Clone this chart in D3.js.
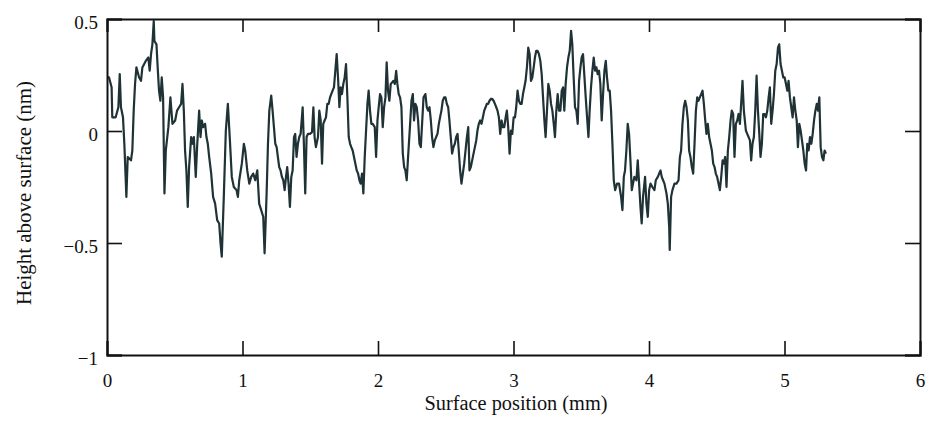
<!DOCTYPE html>
<html><head><meta charset="utf-8">
<script src="https://cdn.jsdelivr.net/npm/d3@7"></script>
<style>
html,body{margin:0;padding:0;background:#fff;}
svg{display:block;}
</style></head>
<body>
<svg id="chart" width="932" height="434"></svg>
<script>
// x ticks (mm) and y ticks (nm)
const xTickValues = [0, 1, 2, 3, 4, 5, 6];
const yTickValues = [0.5, 0, -0.5, -1];
const yTickLabels = ["0.5", "0", "\u22120.5", "\u22121"];
const xTitle = "Surface position (mm)";
const yTitle = "Height above surface (nm)";

// surface position (mm)
const positionMm = [
0,0.015,0.034,0.039,0.064,0.084,0.094,0.103,0.118,0.128,
0.143,0.153,0.177,0.187,0.197,0.207,0.217,0.237,0.251,0.261,
0.286,0.305,0.315,0.325,0.335,0.345,0.350,0.365,0.374,0.384,
0.394,0.404,0.414,0.424,0.434,0.453,0.468,0.483,0.503,0.517,
0.532,0.547,0.557,0.567,0.576,0.586,0.596,0.606,0.621,0.631,
0.641,0.655,0.665,0.680,0.690,0.700,0.710,0.724,0.734,0.744,
0.754,0.769,0.783,0.798,0.813,0.828,0.838,0.847,0.862,0.877,
0.892,0.907,0.921,0.936,0.956,0.966,0.976,0.995,1.010,1.020,
1.035,1.050,1.064,1.079,1.094,1.109,1.123,1.138,1.153,1.163,
1.178,1.188,1.198,1.212,1.222,1.232,1.242,1.252,1.261,1.271,
1.281,1.291,1.301,1.311,1.321,1.330,1.340,1.350,1.360,1.370,
1.380,1.389,1.399,1.409,1.419,1.429,1.444,1.453,1.463,1.473,
1.483,1.498,1.513,1.523,1.532,1.542,1.557,1.567,1.577,1.587,
1.596,1.606,1.616,1.626,1.636,1.646,1.655,1.665,1.675,1.685,
1.695,1.705,1.715,1.724,1.734,1.744,1.754,1.764,1.774,1.784,
1.794,1.803,1.813,1.823,1.833,1.843,1.853,1.863,1.872,1.882,
1.892,1.902,1.912,1.922,1.931,1.941,1.951,1.961,1.976,1.986,
1.996,2.005,2.015,2.025,2.035,2.045,2.055,2.064,2.074,2.084,
2.094,2.104,2.114,2.124,2.134,2.143,2.153,2.163,2.173,2.183,
2.193,2.202,2.212,2.222,2.237,2.247,2.257,2.266,2.276,2.286,
2.296,2.306,2.316,
2.336,2.350,2.360,2.370,2.380,2.390,2.399,2.409,2.419,2.429,
2.439,2.449,2.458,2.468,2.478,2.488,2.498,2.508,2.518,2.527,
2.537,2.547,2.557,2.567,2.577,2.587,2.596,2.606,2.616,2.626,
2.636,2.646,2.656,2.666,2.675,2.685,2.695,2.705,2.715,2.725,
2.734,2.744,2.754,2.764,2.774,2.784,2.794,2.803,2.813,2.823,
2.833,2.843,2.853,2.863,2.873,2.882,2.892,2.902,2.912,2.922,
2.932,2.942,2.951,2.961,2.971,2.981,2.991,3.001,3.011,3.020,
3.030,3.040,3.050,3.060,3.070,3.080,3.089,3.099,3.109,3.119,
3.129,3.139,3.149,3.158,3.168,3.178,3.188,3.198,3.208,3.218,
3.228,3.237,3.247,3.257,3.267,3.277,3.287,3.297,3.306,3.316,
3.326,3.336,3.346,3.356,3.366,3.375,3.385,3.395,3.405,3.415,
3.425,3.434,3.444,3.454,3.464,3.474,3.484,3.494,3.503,3.513,
3.533,3.543,3.553,3.562,3.572,3.582,3.592,3.602,3.612,3.621,
3.631,3.641,3.651,3.661,3.671,3.681,3.690,3.700,3.710,3.720,
3.730,3.740,3.750,3.764,3.779,3.794,3.804,3.814,3.823,3.833,
3.843,3.853,3.863,3.873,3.882,3.892,3.907,3.917,3.927,3.937,
3.946,3.956,3.971,3.981,3.991,4.001,4.011,4.025,4.040,4.050,
4.065,4.075,4.085,4.094,4.104,4.114,4.129,4.139,4.149,4.153,
4.163,4.173,4.188,4.203,4.218,4.228,4.237,4.247,4.257,4.267,
4.277,4.287,4.296,4.306,4.316,4.326,4.336,4.346,4.356,4.365,
4.375,4.385,4.395,4.405,4.415,4.424,4.434,4.444,4.454,4.464,
4.474,4.484,4.493,4.503,4.513,4.523,4.533,4.543,4.552,4.562,
4.572,4.582,4.592,4.602,4.611,4.621,4.631,4.641,4.651,4.661,
4.671,4.680,4.690,4.700,
4.715,4.725,4.735,4.745,4.754,4.764,4.774,4.784,4.794,4.804,
4.814,4.823,4.833,4.843,4.853,4.863,4.873,4.883,4.892,4.902,
4.912,4.922,4.932,4.942,4.952,4.961,4.971,4.981,4.991,5.001,
5.011,5.021,5.030,5.040,5.050,5.060,5.070,5.080,5.090,5.099,
5.109,5.119,5.129,5.139,5.149,5.159,5.168,5.178,5.188,5.198,
5.208,5.218,5.228,5.238,5.247,5.257,5.267,5.277,5.287,5.296,
5.306
];

// height above surface (nm)
const heightNm = [
0.239,0.239,0.195,0.061,0.061,0.106,0.254,0.106,0.061,-0.057,
-0.294,-0.116,-0.131,-0.087,0.091,0.210,0.284,0.239,0.224,0.284,
0.313,0.328,0.269,0.343,0.387,0.491,0.402,0.387,0.284,0.180,
0.135,0.239,0.150,-0.279,-0.087,0.017,0.150,0.032,0.047,0.091,
0.106,0.121,0.210,0.091,-0.087,-0.176,-0.339,-0.161,-0.027,-0.057,
-0.027,-0.205,-0.072,0.091,-0.027,0.047,0.017,0.032,-0.027,-0.057,
-0.116,-0.190,-0.294,-0.324,-0.398,-0.413,-0.502,-0.561,-0.294,0.002,
0.121,-0.042,-0.205,-0.250,-0.264,-0.294,-0.220,-0.146,-0.057,-0.087,
-0.176,-0.235,-0.205,-0.190,-0.220,-0.176,-0.324,-0.353,-0.383,-0.546,
-0.279,-0.057,0.091,0.158,0.091,0.017,-0.057,-0.072,-0.116,-0.161,
-0.176,-0.205,-0.220,-0.264,-0.205,-0.161,-0.235,-0.339,-0.205,-0.176,
-0.027,-0.013,-0.116,-0.057,-0.027,-0.013,0.106,-0.057,-0.279,-0.027,
-0.013,-0.013,-0.005,0.106,-0.027,-0.072,-0.027,0.091,0.047,-0.146,
0.032,0.047,0.061,0.121,0.121,0.150,0.165,0.180,0.195,0.269,
0.343,0.239,0.106,0.195,0.165,0.210,0.239,0.299,0.150,-0.027,
-0.057,-0.072,-0.087,-0.116,-0.146,-0.176,-0.190,-0.220,-0.235,-0.190,
-0.279,-0.116,0.002,0.121,0.180,0.091,0.032,0.032,0.017,-0.116,
0.047,0.106,0.165,0.150,0.017,0.106,0.150,0.306,0.180,0.135,
0.210,0.217,0.224,0.210,0.269,0.210,0.165,0.150,0.106,-0.101,
-0.161,-0.176,-0.220,-0.116,0.032,0.135,0.165,0.047,0.121,0.106,
0.047,-0.057,-0.072,
0.150,0.165,0.106,0.091,0.106,0.047,-0.027,-0.072,-0.042,-0.027,
-0.013,0.032,0.061,0.091,0.135,0.150,0.150,0.121,0.106,0.047,
-0.027,-0.101,-0.072,-0.057,-0.027,-0.013,-0.087,-0.176,-0.235,-0.190,
-0.146,-0.087,-0.027,0.017,-0.176,-0.161,-0.131,-0.101,-0.072,-0.042,
0.002,0.032,0.047,0.032,0.061,0.091,0.106,0.121,0.121,0.135,
0.143,0.143,0.135,0.121,0.106,0.091,0.061,-0.013,0.047,0.017,
0.017,0.061,0.091,0.017,-0.101,0.002,-0.013,0.061,0.061,0.106,
0.180,0.135,0.121,0.121,0.165,0.195,0.224,0.284,0.372,0.343,
0.224,0.239,0.284,0.328,0.358,0.358,0.343,0.313,0.254,0.150,
0.047,-0.027,0.091,0.210,0.180,0.121,0.091,0.032,-0.027,0.091,
0.165,0.091,0.091,0.180,0.195,0.091,0.210,0.284,0.328,0.358,
0.447,0.387,0.239,0.106,0.091,0.032,0.224,0.284,0.328,0.343,
0.150,0.061,-0.027,0.091,0.195,0.269,0.328,0.269,0.284,0.254,
0.269,0.210,0.047,0.165,0.269,0.313,0.239,0.180,0.180,0.091,
-0.057,-0.220,-0.264,-0.235,-0.235,-0.294,-0.353,-0.205,-0.176,-0.087,
0.032,-0.013,-0.131,-0.264,-0.235,-0.205,-0.220,-0.131,-0.235,-0.339,
-0.413,-0.294,-0.205,-0.324,-0.383,-0.264,-0.235,-0.250,-0.264,-0.220,
-0.205,-0.190,-0.176,-0.205,-0.220,-0.235,-0.279,-0.324,-0.428,-0.531,
-0.294,-0.264,-0.235,-0.235,-0.220,-0.116,-0.087,0.032,0.106,0.135,
0.106,0.047,-0.087,-0.116,-0.161,-0.190,-0.057,0.091,0.150,0.135,
0.150,0.165,0.180,0.121,0.047,-0.013,0.032,-0.027,-0.057,-0.087,
-0.146,-0.161,-0.190,-0.205,-0.235,-0.264,-0.205,-0.131,-0.146,-0.116,
-0.250,-0.087,-0.027,0.047,0.091,0.076,-0.116,0.032,0.047,0.076,
0.032,0.121,0.224,0.091,
0.002,-0.013,-0.027,-0.042,-0.131,-0.057,-0.027,0.091,0.247,0.091,
-0.013,-0.116,-0.057,0.076,0.076,0.061,0.091,0.150,0.195,0.032,
0.091,0.165,0.269,0.299,0.372,0.387,0.299,0.269,0.239,0.239,
0.210,0.180,0.224,0.150,0.106,0.061,0.150,0.091,0.047,-0.072,
0.032,0.002,-0.042,-0.087,-0.146,-0.176,-0.057,-0.087,-0.027,-0.057,
-0.013,0.047,0.091,0.121,0.091,0.150,-0.072,-0.116,-0.131,-0.087,
-0.101
];

const SERIF = "'Liberation Serif', 'Times New Roman', 'DejaVu Serif', serif";
const svg = d3.select("#chart");
const margin = {left: 107, right: 12, top: 19, bottom: 79};
const W = 932, H = 434;
const x = d3.scaleLinear().domain([0, 6]).range([margin.left, W - margin.right]);
const y = d3.scaleLinear().domain([-1, 0.5]).range([H - margin.bottom, margin.top]);

const n = Math.min(positionMm.length, heightNm.length);
const pts = d3.range(n).map(i => [positionMm[i], heightNm[i]]);

// profile line
svg.append("path")
  .datum(pts)
  .attr("fill", "none")
  .attr("stroke", "#1f3236")
  .attr("stroke-width", 2.2)
  .attr("stroke-linejoin", "round")
  .attr("d", d3.line().x(d => x(d[0])).y(d => y(d[1])));

// bottom axis
const gB = svg.append("g").attr("transform", `translate(0,${y(-1)})`)
  .call(d3.axisBottom(x).tickValues(xTickValues).tickSize(-14).tickPadding(19).tickFormat(d3.format("d")));
// top axis
const gT = svg.append("g").attr("transform", `translate(0,${y(0.5)})`)
  .call(d3.axisTop(x).tickValues(xTickValues).tickSize(-13).tickFormat(""));
// left axis
const gL = svg.append("g").attr("transform", `translate(${x(0)},0)`)
  .call(d3.axisLeft(y).tickValues(yTickValues).tickSize(-15).tickPadding(9)
    .tickFormat((d, i) => yTickLabels[i]));
// right axis
const gR = svg.append("g").attr("transform", `translate(${x(6)},0)`)
  .call(d3.axisRight(y).tickValues(yTickValues).tickSize(-15).tickFormat(""));

[gB, gT, gL, gR].forEach(g => {
  g.attr("font-family", null);
  g.select(".domain").attr("stroke", "#111").attr("stroke-width", 2);
  g.selectAll(".tick line").attr("stroke", "#111").attr("stroke-width", 1.6);
  g.selectAll(".tick text")
    .style("font-family", SERIF)
    .style("font-size", "19px")
    .attr("fill", "#111");
});
gL.selectAll(".tick text").attr("dy", "0.5em");

// axis titles
svg.append("text")
  .attr("x", 516).attr("y", 410)
  .attr("text-anchor", "middle")
  .style("font-family", SERIF)
  .style("font-size", "20px")
  .attr("fill", "#111")
  .attr("textLength", 183)
  .attr("lengthAdjust", "spacingAndGlyphs")
  .text(xTitle);

svg.append("text")
  .attr("transform", `translate(31,193) rotate(-90)`)
  .attr("text-anchor", "middle")
  .style("font-family", SERIF)
  .style("font-size", "22px")
  .attr("fill", "#111")
  .attr("textLength", 224)
  .attr("lengthAdjust", "spacingAndGlyphs")
  .text(yTitle);
</script>
</body></html>
